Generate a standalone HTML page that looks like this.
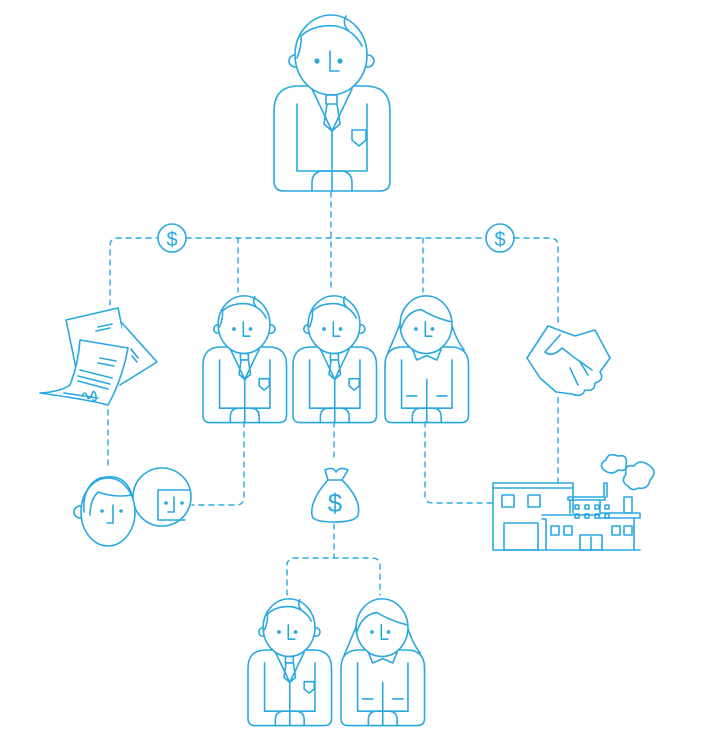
<!DOCTYPE html>
<html><head><meta charset="utf-8"><style>
html,body{margin:0;padding:0;background:#fff;width:701px;height:742px;overflow:hidden}
svg{display:block}
</style></head><body>
<svg width="701" height="742" viewBox="0 0 701 742" xmlns="http://www.w3.org/2000/svg">
<defs>
<g id="body">
  <path d="M0,25 Q0,0 25,0 L91,0 Q116,0 116,25 L116,95 Q116,105 106,105 L10,105 Q0,105 0,95 Z"/>
  <path d="M23,18 V85 H93 V18"/>
  <path d="M38,105 V97 Q38,85 50,85 H66 Q78,85 78,97 V105"/>
  <path d="M58,45 V105"/>
</g>
<g id="man">
  <use href="#body"/>
  <circle cx="21" cy="-25" r="6" fill="#fff"/><circle cx="94" cy="-25" r="6" fill="#fff"/>
  <ellipse cx="57" cy="-31" rx="36" ry="40" fill="#fff"/>
  <path d="M23,-28 Q28,-40 27,-50 Q40,-62 62,-60 Q80,-56 88,-40"/>
  <path d="M72,-70 Q68,-62 74,-56"/>
  <circle cx="43" cy="-25" r="2.6" fill="#29a8e0" stroke="none"/><circle cx="66" cy="-25" r="2.6" fill="#29a8e0" stroke="none"/>
  <path d="M56,-35 V-15 H65"/>
  <path d="M38,3 L58,45 L78,3"/>
  <rect x="52" y="9" width="11" height="9"/>
  <path d="M53,18 L50,38 L58,45 L66,38 L63,18"/>
  <path d="M78,44 H92 V54 L85,60 L78,54 Z"/>
</g>
<g id="woman">
  <use href="#body"/>
  <path d="M24,-40 Q12,-10 4,8 M90,-40 Q98,-10 110,4"/>
  <ellipse cx="57" cy="-31" rx="36" ry="40" fill="#fff"/>
  <path d="M22,-25 Q30,-50 50,-52 Q70,-40 92,-35"/>
  <circle cx="43" cy="-25" r="2.6" fill="#29a8e0" stroke="none"/><circle cx="66" cy="-25" r="2.6" fill="#29a8e0" stroke="none"/>
  <path d="M56,-35 V-15 H65"/>
  <path d="M38,3 L44,18 L58,12 L72,18 L78,3"/>
  <path d="M30,68 H44 M72,68 H86"/>
</g>
</defs>
<g fill="none" stroke="#29a8e0" stroke-width="1.6" stroke-linecap="round" stroke-linejoin="round">
<g stroke-dasharray="5,5" stroke-width="1.4">
  <path d="M110,305 V246 Q110,238 118,238 H158 M186,238 H486 M514,238 H550 Q558,238 558,246 V323"/>
  <path d="M238,238 V292 M331,192 V292 M423,238 V292"/>
  <path d="M108,400 V470"/>
  <path d="M244,422 V497 Q244,505 236,505 H192"/>
  <path d="M334,422 V462 M334,524 V558 M287,595 V566 Q287,558 295,558 H372 Q380,558 380,566 V595"/>
  <path d="M425,422 V495 Q425,503 433,503 H493"/>
  <path d="M558,398 V483"/>
</g>
<circle cx="172" cy="238" r="14" fill="#fff"/>
<circle cx="500" cy="238" r="14" fill="#fff"/>
<text x="172" y="246" font-family="Liberation Sans, sans-serif" font-size="20" text-anchor="middle" fill="#29a8e0" stroke="none">$</text>
<text x="500" y="246" font-family="Liberation Sans, sans-serif" font-size="20" text-anchor="middle" fill="#29a8e0" stroke="none">$</text>
<use href="#man" transform="translate(274,86)"/>
<use href="#man" transform="translate(203,347) scale(0.72)" stroke-width="2.2"/>
<use href="#man" transform="translate(293,347) scale(0.72)" stroke-width="2.2"/>
<use href="#woman" transform="translate(385,347) scale(0.72)" stroke-width="2.2"/>
<use href="#man" transform="translate(248,650) scale(0.72)" stroke-width="2.2"/>
<use href="#woman" transform="translate(341,650) scale(0.72)" stroke-width="2.2"/>
<!-- documents -->
<path d="M66,320 L118,308 L128,355 L76,368 Z" fill="#fff"/>
<path d="M122,323 L157,362 L120,385" fill="#fff"/>
<path d="M80,340 L128,348 Q122,380 108,405 Q90,400 40,393 Q60,392 70,385 Q78,365 80,340 Z" fill="#fff"/>
<path d="M98,327 L112,324 M96,331 L110,328 M100,358 L116,361 M98,363 L114,366 M80,370 L112,378 M78,376 L110,384 M78,381 L108,389 M64,393 L98,398 M131,349 L138,358 M132,356 L137,362"/>
<path d="M82,396 q3,-6 5,0 q2,6 5,-2 q2,-6 4,2 q1,6 -3,4"/>
<!-- couple -->
<circle cx="162" cy="497" r="29" fill="#fff"/>
<path d="M158,490 V520 H185 M158,490 H190"/>
<circle cx="166" cy="503" r="1.8" fill="#29a8e0" stroke="none"/><circle cx="182" cy="503" r="1.8" fill="#29a8e0" stroke="none"/>
<path d="M174,497 V512 H168"/>
<circle cx="80" cy="512" r="6" fill="#fff"/>
<ellipse cx="108" cy="512" rx="27" ry="34" fill="#fff"/>
<path d="M84,512 Q82,486 100,478 Q125,472 132,495 Q115,498 98,492 Q90,500 90,515"/>
<circle cx="102" cy="511" r="1.8" fill="#29a8e0" stroke="none"/><circle cx="121" cy="511" r="1.8" fill="#29a8e0" stroke="none"/>
<path d="M113,505 V523 H107"/>
<!-- handshake -->
<path d="M527,358 L548,326 L575,336 L595,330 L610,358 L600,372 Q605,380 595,383 Q595,392 585,390 Q582,398 572,394 L556,392 L540,378 Z" fill="#fff"/>
<path d="M560,335 L545,352 Q552,358 562,348 L575,358 L592,370 M580,362 L588,375 M570,368 L578,385"/>
<!-- money bag -->
<path d="M325,470 Q333,466 336,472 Q340,466 348,470 L342,480 Q362,500 358,515 Q356,522 334,522 Q312,522 312,515 Q310,500 328,480 Z" fill="#fff"/>
<path d="M328,480 H342"/>
<text x="335" y="512" font-family="Liberation Sans, sans-serif" font-size="26" text-anchor="middle" fill="#29a8e0" stroke="none">$</text>
<!-- factory -->
<path d="M493,550 V483 H573 V513 M493,488 H573 M493,550 H640"/>
<rect x="502" y="495" width="12" height="12"/><rect x="528" y="495" width="12" height="12"/>
<rect x="504" y="523" width="34" height="27"/>
<path d="M542,515 H600 M542,519 H546 V550 M568,500 H604 M570,500 V513 M600,500 V513 M600,513 H640 V518 H600 M634,518 V550"/>
<path d="M568,500 V497 H605 V500"/>
<path d="M604,497 V483 H607 V497"/>
<rect x="624" y="497" width="8" height="16"/>
<rect x="575" y="505" width="4" height="4"/><rect x="585" y="505" width="4" height="4"/><rect x="595" y="505" width="4" height="4"/><rect x="605" y="505" width="4" height="4"/>
<rect x="575" y="514" width="4" height="4"/><rect x="585" y="514" width="4" height="4"/><rect x="595" y="514" width="4" height="4"/><rect x="605" y="514" width="4" height="4"/>
<rect x="551" y="526" width="8" height="9"/><rect x="564" y="526" width="8" height="9"/>
<rect x="612" y="526" width="8" height="9"/><rect x="624" y="526" width="8" height="9"/>
<rect x="580" y="535" width="22" height="15"/><path d="M591,537 V550"/>
<path d="M604,470 Q598,464 606,460 Q608,452 618,456 Q628,454 626,464 Q628,472 618,470 Q612,476 604,470 Z"/>
<path d="M628,486 Q620,482 626,474 Q624,464 634,466 Q640,458 650,466 Q658,472 650,480 Q648,490 638,488 Q632,492 628,486 Z"/>
</g>
</svg>
</body></html>
